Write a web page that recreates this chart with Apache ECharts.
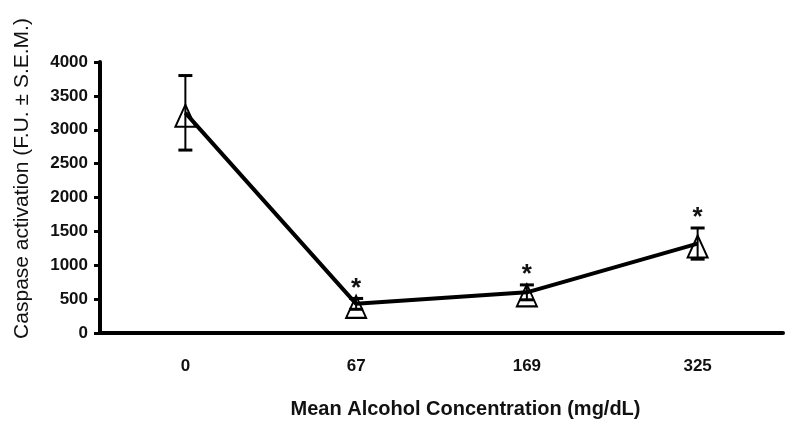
<!DOCTYPE html>
<html>
<head>
<meta charset="utf-8">
<script src="https://cdn.jsdelivr.net/npm/echarts@6/dist/echarts.min.js"></script>
<style>
  html, body { margin: 0; padding: 0; background: #fff; }
  #chart { width: 800px; height: 425px; }
</style>
</head>
<body>
<div id="chart"></div>
<script>
// doses (mg/dL) on the x axis
var doses = ['0', '67', '169', '325'];
// mean caspase activation and its S.E.M.
var means = [3250, 430, 600, 1320];
var sems = [550, 80, 110, 230];
// significance star over each point
var stars = [false, true, true, true];
var yTicks = [0, 500, 1000, 1500, 2000, 2500, 3000, 3500, 4000];

var chart = echarts.init(document.getElementById('chart'));

var font = 'Liberation Sans, Arial, sans-serif';

function errorItem(params, api) {
  var i = params.dataIndex;
  var x = api.coord([i, 0])[0];
  var top = api.coord([i, means[i] + sems[i]])[1];
  var bottom = api.coord([i, means[i] - sems[i]])[1];
  var cap = 7;
  var kids = [
    { type: 'line', shape: { x1: x, y1: top, x2: x, y2: bottom }, style: { stroke: '#000', lineWidth: 2 } },
    { type: 'line', shape: { x1: x - cap, y1: top, x2: x + cap, y2: top }, style: { stroke: '#000', lineWidth: 3 } },
    { type: 'line', shape: { x1: x - cap, y1: bottom, x2: x + cap, y2: bottom }, style: { stroke: '#000', lineWidth: 3 } }
  ];
  if (stars[i]) {
    kids.push({
      type: 'text',
      style: {
        text: '*', x: x, y: top - 10,
        align: 'center', verticalAlign: 'middle',
        font: 'bold 26px ' + font, fill: '#111'
      }
    });
  }
  return { type: 'group', children: kids };
}

var option = {
  animation: false,
  backgroundColor: '#fff',
  grid: { left: 100, right: 17, top: 62, bottom: 92, containLabel: false, outerBoundsMode: 'none' },
  xAxis: {
    type: 'category',
    data: doses,
    boundaryGap: true,
    name: 'Mean Alcohol Concentration (mg/dL)',
    nameLocation: 'middle',
    nameGap: 66,
    nameTextStyle: { fontFamily: font, fontWeight: 'bold', fontSize: 20, color: '#111', padding: [0, 0, 0, 48] },
    axisLine: { lineStyle: { color: '#000', width: 4 } },
    axisTick: { length: 7, lineStyle: { color: '#000', width: 3 } },
    axisLabel: { fontFamily: font, fontWeight: 'bold', fontSize: 17, color: '#111', margin: 25 }
  },
  yAxis: {
    type: 'value',
    min: yTicks[0],
    max: yTicks[yTicks.length - 1],
    interval: 500,
    name: 'Caspase activation (F.U. \u00b1 S.E.M.)',
    nameLocation: 'middle',
    nameGap: 67,
    nameTextStyle: { fontFamily: font, fontSize: 21, color: '#111', padding: [0, 0, 0, 38] },
    splitLine: { show: false },
    axisLine: { show: true, lineStyle: { color: '#000', width: 4 } },
    axisTick: { show: true, length: 6, lineStyle: { color: '#000', width: 3 } },
    axisLabel: {
      fontFamily: font, fontWeight: 'bold', fontSize: 17, color: '#111', margin: 12,
      formatter: function (v) { return String(v); }
    }
  },
  series: [
    {
      type: 'scatter',
      data: means,
      symbol: 'triangle',
      symbolSize: [20, 22],
      symbolOffset: [0, 3],
      itemStyle: { color: '#fff', borderColor: '#000', borderWidth: 2, opacity: 1 },
      z: 1
    },
    {
      type: 'line',
      data: means,
      symbol: 'none',
      lineStyle: { color: '#000', width: 4 },
      z: 2
    },
    {
      type: 'custom',
      data: means,
      renderItem: errorItem,
      z: 3
    }
  ]
};

chart.setOption(option);
</script>
</body>
</html>
